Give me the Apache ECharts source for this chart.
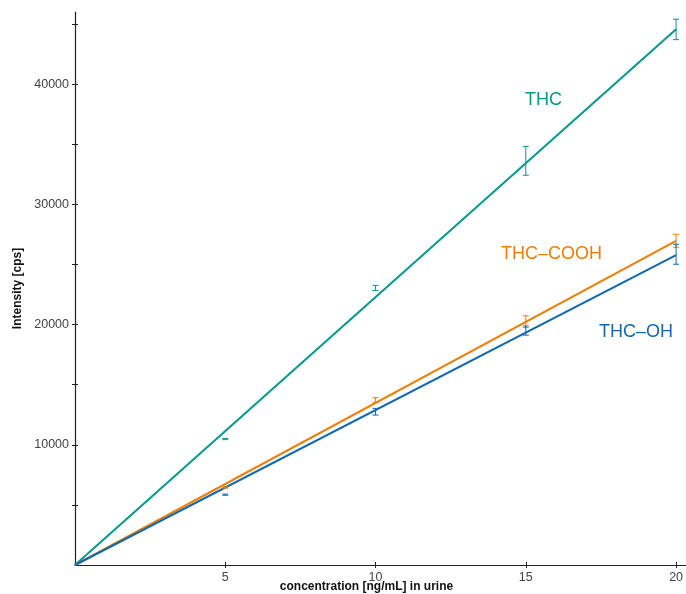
<!DOCTYPE html>
<html>
<head>
<meta charset="utf-8">
<script src="https://cdn.jsdelivr.net/npm/echarts@6/dist/echarts.min.js"></script>
<style>
  html, body { margin: 0; padding: 0; background: #fff; }
  #main { width: 686px; height: 594px; }
</style>
</head>
<body>
<div id="main"></div>
<script>
  // concentration [ng/mL]
  var conc = [5, 10, 15, 20]
  // measured means and error (half range) per compound
  var thcMean = [10480, 23050, 33620, 44550]
  var thcErr = [50, 210, 1200, 850]
  var coohMean = [6450, 13720, 20240, 26970]
  var coohErr = [50, 190, 490, 540]
  var ohMean = [5850, 12750, 19500, 25850]
  var ohErr = [50, 280, 380, 830]
  // fitted calibration lines through origin
  var fitX = [0, 20]
  var thcFit = [0, 44560]
  var coohFit = [0, 26960]
  var ohFit = [0, 25770]
  // axis ticks
  var xTicks = [5, 10, 15, 20]
  var yTicks = [5000, 10000, 15000, 20000, 25000, 30000, 35000, 40000, 45000]
  var yLabels = [10000, 20000, 30000, 40000]

  var TEAL = '#00998d'
  var ORANGE = '#ef7d00'
  var BLUE = '#1068b1'
  var AXIS = '#222'
  var FONT = 'Liberation Sans'

  function pairs (xs, ys) {
    return xs.map(function (x, i) { return [x, ys[i]] })
  }
  function errData (mean, err) {
    return conc.map(function (c, i) { return [c, mean[i] - err[i], mean[i] + err[i]] })
  }
  function errSeries (mean, err, color) {
    return {
      type: 'custom',
      silent: true,
      z: 3,
      encode: { x: 0, y: [1, 2] },
      data: errData(mean, err),
      renderItem: function (params, api) {
        var top = api.coord([api.value(0), api.value(2)])
        var bot = api.coord([api.value(0), api.value(1)])
        var w = 3
        var st = { stroke: color, lineWidth: 1 }
        return {
          type: 'group',
          children: [
            { type: 'line', shape: { x1: top[0], y1: top[1], x2: bot[0], y2: bot[1] }, style: st },
            { type: 'line', shape: { x1: top[0] - w, y1: top[1], x2: top[0] + w, y2: top[1] }, style: st },
            { type: 'line', shape: { x1: bot[0] - w, y1: bot[1], x2: bot[0] + w, y2: bot[1] }, style: st }
          ]
        }
      }
    }
  }
  function fitSeries (ys, color) {
    return {
      type: 'line',
      silent: true,
      showSymbol: false,
      z: 2,
      lineStyle: { color: color, width: 2 },
      data: pairs(fitX, ys)
    }
  }
  function plain (v) { return String(v) } // no thousands separator

  var myChart = echarts.init(document.getElementById('main'))
  myChart.setOption({
    animation: false,
    backgroundColor: '#fff',
    grid: { left: 75, right: 0, top: 12, bottom: 29, outerBoundsMode: 'none' },
    xAxis: [{
      type: 'value',
      min: 0,
      max: 20.33,
      position: 'bottom',
      name: 'concentration [ng/mL] in urine',
      nameLocation: 'middle',
      nameGap: 16,
      nameMoveOverlap: false,
      nameTextStyle: { fontFamily: FONT, fontWeight: 'bold', fontSize: 12, color: '#111', padding: [0, 28, 0, 0] },
      splitLine: { show: false },
      axisLine: { lineStyle: { color: AXIS, width: 1.2 } },
      axisTick: { length: 3, lineStyle: { color: AXIS }, customValues: xTicks },
      axisLabel: { customValues: xTicks, formatter: plain, margin: 6, fontFamily: FONT, fontSize: 12.5, color: '#444' }
    }, { // inner half of the crossing ticks
      type: 'value',
      min: 0,
      max: 20.33,
      position: 'bottom',
      splitLine: { show: false },
      axisLine: { show: false },
      axisTick: { inside: true, length: 3, lineStyle: { color: AXIS }, customValues: xTicks },
      axisLabel: { show: false }
    }],
    yAxis: [{
      type: 'value',
      min: 0,
      max: 46000,
      position: 'left',
      name: 'Intensity [cps]',
      nameLocation: 'middle',
      nameGap: 48,
      nameTextStyle: { fontFamily: FONT, fontWeight: 'bold', fontSize: 12, color: '#111' },
      splitLine: { show: false },
      axisLine: { show: true, onZero: false, lineStyle: { color: AXIS, width: 1.2 } },
      axisTick: { show: true, length: 3, lineStyle: { color: AXIS }, customValues: yTicks },
      axisLabel: { customValues: yLabels, formatter: plain, margin: 6, fontFamily: FONT, fontSize: 12.5, color: '#444' }
    }, {
      type: 'value',
      min: 0,
      max: 46000,
      position: 'left',
      splitLine: { show: false },
      axisLine: { show: false, onZero: false },
      axisTick: { show: true, inside: true, length: 3, lineStyle: { color: AXIS }, customValues: yTicks },
      axisLabel: { show: false }
    }],
    graphic: [
      { type: 'text', left: 525, top: 91, style: { text: 'THC', fill: TEAL, font: '18px "Liberation Sans"' } },
      { type: 'text', left: 501, top: 245, style: { text: 'THC–COOH', fill: ORANGE, font: '18px "Liberation Sans"' } },
      { type: 'text', left: 599, top: 323, style: { text: 'THC–OH', fill: BLUE, font: '18px "Liberation Sans"' } }
    ],
    series: [
      fitSeries(thcFit, TEAL),
      fitSeries(coohFit, ORANGE),
      fitSeries(ohFit, BLUE),
      errSeries(thcMean, thcErr, TEAL),
      errSeries(coohMean, coohErr, ORANGE),
      errSeries(ohMean, ohErr, BLUE)
    ]
  })
</script>
</body>
</html>
